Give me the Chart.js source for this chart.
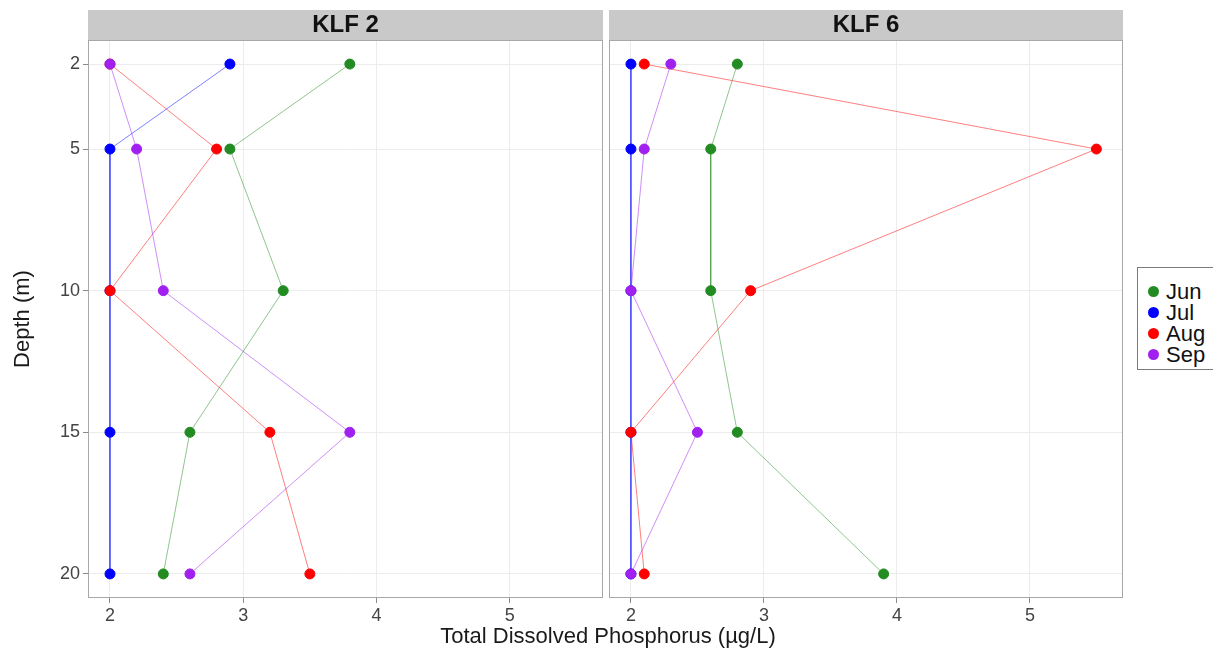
<!DOCTYPE html>
<html>
<head>
<meta charset="utf-8">
<script src="https://cdn.jsdelivr.net/npm/chart.js@4"></script>
<style>
  body { margin: 0; background: #fff; font-family: "Liberation Sans", Arial, sans-serif; }
  #wrap { position: relative; width: 1213px; height: 652px; overflow: hidden; }
  canvas { position: absolute; top: 0; }
  #c1 { left: 0; }
  #c2 { left: 606px; }
  #xtitle { position: absolute; left: 0; width: 1216px; top: 623px; height: 26px; line-height: 26px;
            text-align: center; font-size: 22px; color: #1a1a1a; }
  #legend { position: absolute; left: 1137px; top: 267px; width: 100px; height: 103px;
            border: 1px solid #7a7a7a; box-sizing: border-box; padding-top: 13px; }
  .item { position: relative; height: 21px; line-height: 21px; font-size: 22px; color: #111; padding-left: 28px; }
  .item span { position: absolute; left: 10px; top: 5px; width: 11px; height: 11px; border-radius: 50%; }
</style>
</head>
<body>
<div id="wrap">
  <canvas id="c1" width="606" height="652"></canvas>
  <canvas id="c2" width="520" height="652"></canvas>
  <div id="xtitle">Total Dissolved Phosphorus (µg/L)</div>
  <div id="legend"></div>
</div>
<script>
const depthTicks = [2, 5, 10, 15, 20];
const phosTicks = [2, 3, 4, 5];
const months = ['Jun', 'Jul', 'Aug', 'Sep'];
const monthColors = ['#228b22', '#0000ff', '#ff0000', '#a020f0'];

// values per depth (2, 5, 10, 15, 20 m)
const klf2Jun = [3.8, 2.9, 3.3, 2.6, 2.4];
const klf2Jul = [2.9, 2.0, 2.0, 2.0, 2.0];
const klf2Aug = [2.0, 2.8, 2.0, 3.2, 3.5];
const klf2Sep = [2.0, 2.2, 2.4, 3.8, 2.6];

const klf6Jun = [2.8, 2.6, 2.6, 2.8, 3.9];
const klf6Jul = [2.0, 2.0, 2.0, 2.0, 2.0];
const klf6Aug = [2.1, 5.5, 2.9, 2.0, 2.1];
const klf6Sep = [2.3, 2.1, 2.0, 2.5, 2.0];

Chart.defaults.font.family = '"Liberation Sans", Arial, sans-serif';

function fade(hex, a) {
  let n = parseInt(hex.slice(1), 16);
  return `rgba(${n >> 16}, ${(n >> 8) & 255}, ${n & 255}, ${a})`;
}

function makeDatasets(series) {
  return series.map((vals, i) => ({
    label: months[i],
    data: vals.map((v, j) => ({x: v, y: depthTicks[j]})),
    showLine: true,
    borderColor: fade(monthColors[i], 0.5),
    borderWidth: 1,
    backgroundColor: monthColors[i],
    pointBorderColor: monthColors[i],
    pointRadius: 5,
    pointBorderWidth: 1,
    order: series.length - 1 - i,
  }));
}

// grey strip behind the facet title + panel border
const panelDeco = {
  id: 'panelDeco',
  beforeDraw(chart) {
    let t = chart.titleBlock, a = chart.chartArea, ctx = chart.ctx;
    ctx.save();
    ctx.fillStyle = '#c9c9c9';
    ctx.fillRect(a.left, t.top, a.right - a.left, t.height);
    ctx.restore();
  },
  beforeDatasetsDraw(chart) {
    let a = chart.chartArea, ctx = chart.ctx;
    ctx.save();
    ctx.strokeStyle = '#a8a8a8';
    ctx.lineWidth = 1;
    ctx.strokeRect(a.left + 0.5, a.top + 0.5, a.right - a.left - 1, a.bottom - a.top - 1);
    ctx.restore();
  }
};

function makeChart(id, title, series, isLeft) {
  return new Chart(document.getElementById(id), {
    type: 'scatter',
    data: {datasets: makeDatasets(series)},
    plugins: [panelDeco],
    options: {
      responsive: false,
      animation: false,
      layout: {autoPadding: false, padding: {top: 10, left: 0, right: 3, bottom: 0}},
      plugins: {
        legend: {display: false},
        tooltip: {enabled: false},
        title: {
          display: true,
          text: title,
          fullSize: false,
          color: '#111',
          font: {size: 24, weight: 'bold', lineHeight: 1},
          padding: {top: 3, bottom: 3},
        },
      },
      scales: {
        x: {
          type: 'linear',
          min: 1.835,
          max: 5.70,
          afterBuildTicks: s => { s.ticks = phosTicks.map(v => ({value: v})); },
          afterFit: s => { s.height = 54; },
          border: {display: false},
          grid: {color: '#ececec', tickColor: '#8a8a8a', tickLength: 5},
          ticks: {color: '#444', font: {size: 18}, padding: 2},
        },
        y: {
          type: 'linear',
          reverse: true,
          min: 1.15,
          max: 20.85,
          afterBuildTicks: s => { s.ticks = depthTicks.map(v => ({value: v})); },
          afterFit: s => { s.width = isLeft ? 88 : 3; },
          border: {display: false},
          grid: {color: '#ececec', tickColor: '#8a8a8a', tickLength: 5, drawTicks: isLeft},
          ticks: {display: isLeft, color: '#444', font: {size: 18}, padding: 3},
          title: {
            display: isLeft,
            text: 'Depth (m)',
            color: '#1a1a1a',
            font: {size: 22},
            padding: {top: 10, bottom: 0},
          },
        },
      },
    },
  });
}

makeChart('c1', 'KLF 2', [klf2Jun, klf2Jul, klf2Aug, klf2Sep], true);
makeChart('c2', 'KLF 6', [klf6Jun, klf6Jul, klf6Aug, klf6Sep], false);

let legend = document.getElementById('legend');
months.forEach((m, i) => {
  let item = document.createElement('div');
  item.className = 'item';
  item.innerHTML = `<span style="background:${monthColors[i]}"></span>${m}`;
  legend.appendChild(item);
});
</script>
</body>
</html>
